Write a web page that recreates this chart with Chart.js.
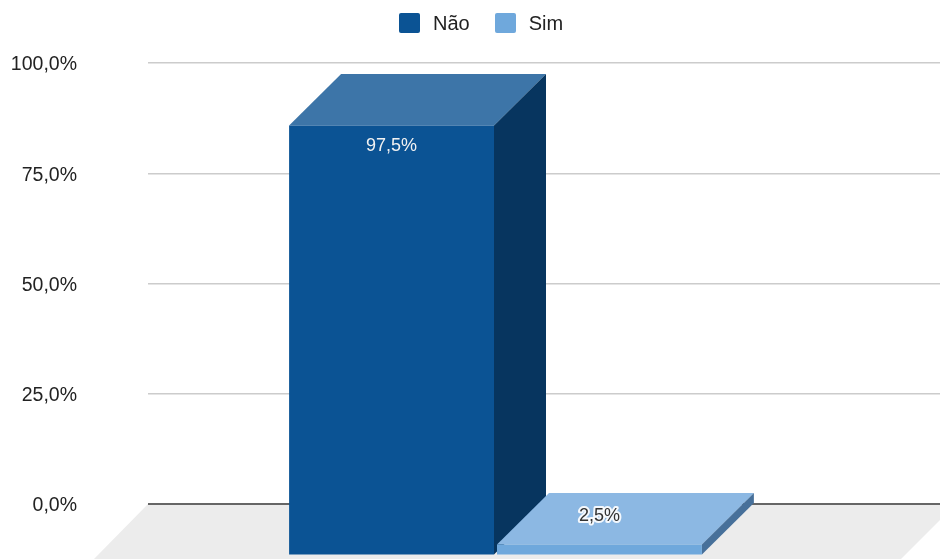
<!DOCTYPE html>
<html>
<head>
<meta charset="utf-8">
<style>
  html, body { margin: 0; padding: 0; background: #fff; overflow: hidden; }
  canvas { display: block; }
  #legend { position: absolute; left: 399px; top: 13px; display: flex; align-items: center; height: 20px;
    font: 20px 'Liberation Sans'; color: #222; }
  #legend i { display: block; width: 21px; height: 20px; border-radius: 2px; margin-right: 13px; }
  #legend span { margin-right: 25px; }
</style>
<script src="https://cdn.jsdelivr.net/npm/chart.js@4"></script>
</head>
<body>
<canvas id="myChart" width="940" height="559"></canvas>
<div id="legend"></div>
<script>
const categories = [""];
const seriesNames = ["Não", "Sim"];
const naoValues = [97.5];
const simValues = [2.5];
const tickValues = [0, 25, 50, 75, 100];

const frontColors = ["#0b5394", "#6fa8dc"];
const topColors = ["#3d75a8", "#8cb8e3"];
const sideColors = ["#07355f", "#47709a"];

// how far the front of the box sits from the back wall
const depthX = 52;
const depthY = 51.5;
const shiftX = 48.5;

const fmt = (v) => v.toFixed(1).replace(".", ",") + "%";

const floorPlugin = {
  id: "floor",
  beforeDraw(chart) {
    const { ctx, chartArea } = chart;
    ctx.save();
    ctx.fillStyle = "#ececec";
    ctx.beginPath();
    ctx.moveTo(chartArea.left, chartArea.bottom);
    ctx.lineTo(chartArea.right + 16, chartArea.bottom);
    ctx.lineTo(chartArea.right - 39, chartArea.bottom + 55);
    ctx.lineTo(chartArea.left - 54, chartArea.bottom + 55);
    ctx.closePath();
    ctx.fill();
    ctx.restore();
  },
};

const boxPlugin = {
  id: "box",
  // top and side faces go first, Não then Sim, so Sim lies over Não's side
  beforeDatasetsDraw(chart) {
    const ctx = chart.ctx;
    chart.data.datasets.forEach((ds, i) => {
      const bar = chart.getDatasetMeta(i).data[0];
      const half = bar.width / 2;
      const l = bar.x - half - shiftX;
      const r = bar.x + half - shiftX;
      const t = bar.y + depthY;
      const b = bar.base + depthY;

      ctx.save();
      ctx.fillStyle = topColors[i];
      ctx.beginPath();
      ctx.moveTo(l, t);
      ctx.lineTo(l + depthX, t - depthY);
      ctx.lineTo(r + depthX, t - depthY);
      ctx.lineTo(r, t);
      ctx.closePath();
      ctx.fill();
      ctx.fillStyle = sideColors[i];
      ctx.beginPath();
      ctx.moveTo(r, t);
      ctx.lineTo(r + depthX, t - depthY);
      ctx.lineTo(r + depthX, b - depthY);
      ctx.lineTo(r, b);
      ctx.closePath();
      ctx.fill();
      ctx.restore();
    });
  },
  // the library draws the front face, moved onto the front plane
  beforeDatasetDraw(chart) {
    chart.ctx.save();
    chart.ctx.translate(-shiftX, depthY);
  },
  afterDatasetDraw(chart) {
    chart.ctx.restore();
  },
  afterDatasetsDraw(chart) {
    const ctx = chart.ctx;
    ctx.save();
    ctx.font = "18px 'Liberation Sans'";
    ctx.textAlign = "center";
    ctx.textBaseline = "middle";
    chart.data.datasets.forEach((ds, i) => {
      const bar = chart.getDatasetMeta(i).data[0];
      const x = bar.x - shiftX;
      const tall = bar.base - bar.y > 40;
      const y = bar.y + depthY + (tall ? 21 : -28);
      const text = fmt(ds.data[0]);
      if (tall) {
        ctx.fillStyle = "#f2f2f2";
      } else {
        ctx.lineWidth = 4;
        ctx.lineJoin = "round";
        ctx.strokeStyle = "rgba(255,255,255,0.9)";
        ctx.strokeText(text, x, y);
        ctx.fillStyle = "#333";
      }
      ctx.fillText(text, x, y);
    });
    ctx.restore();
  },
};

// legend
seriesNames.forEach((name, i) => {
  const box = document.createElement("i");
  box.style.background = frontColors[i];
  const label = document.createElement("span");
  label.textContent = name;
  document.getElementById("legend").append(box, label);
});

new Chart(document.getElementById("myChart"), {
  type: "bar",
  data: {
    labels: categories,
    datasets: [
      { label: seriesNames[0], data: naoValues, backgroundColor: frontColors[0] },
      { label: seriesNames[1], data: simValues, backgroundColor: frontColors[1] },
    ],
  },
  plugins: [floorPlugin, boxPlugin],
  options: {
    responsive: false,
    animation: false,
    layout: { padding: { top: 63, bottom: 55, left: 0, right: 0 } },
    datasets: { bar: { categoryPercentage: 0.525, barPercentage: 0.9856, clip: false } },
    plugins: {
      tooltip: { enabled: false },
      legend: { display: false },
    },
    scales: {
      x: {
        display: false,
      },
      y: {
        min: 0,
        max: 100,
        border: { display: false },
        afterBuildTicks(scale) {
          scale.ticks = tickValues.map((v) => ({ value: v }));
        },
        afterFit(scale) {
          scale.width = 148;
          // tick padding would otherwise eat into the plot height
          scale.paddingTop = 0;
          scale.paddingBottom = 0;
        },
        grid: {
          drawTicks: false,
          color: (c) => (c.tick.value === 0 ? "#666" : "#ccc"),
          lineWidth: (c) => (c.tick.value === 0 ? 2 : 1.5),
        },
        ticks: {
          padding: 71,
          labelOffset: 2,
          color: "#222",
          font: { family: "'Liberation Sans'", size: 19.5 },
          callback: (v) => fmt(v),
        },
      },
    },
  },
});
</script>
</body>
</html>
